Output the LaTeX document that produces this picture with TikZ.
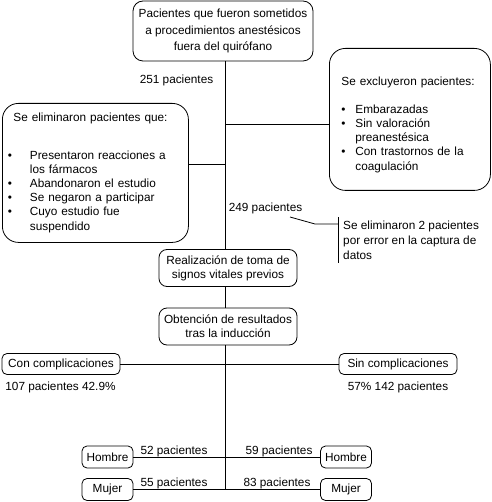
\documentclass[tikz,border=0pt]{standalone}
\usepackage{fontspec}
\setmainfont{Liberation Sans}
\usetikzlibrary{positioning}
\tikzset{
  flowbox/.style  = {draw, line width=0.8pt, rounded corners=5pt, align=center,
                     inner sep=2pt, font=\fontsize{11.8}{14.2}\selectfont},
  stepbox/.style  = {flowbox, rounded corners=8pt, minimum width=138pt, minimum height=37pt},
  listbox/.style  = {flowbox, rounded corners=16pt, align=left, anchor=north west},
  countlbl/.style = {font=\fontsize{11.8}{14.2}\selectfont, inner sep=0pt},
  link/.style     = {line width=0.8pt},
}
\newcommand{\itembul}[1][22pt]{\makebox[#1][l]{\textbullet}}

\begin{document}
\begin{tikzpicture}[x=1pt, y=-1pt]
    \useasboundingbox (0,0) rectangle (491,502);
    \coordinate (tr) at (225,0);
    % start
    \node[stepbox, rounded corners=10pt, minimum width=180pt, minimum height=60pt,
          font=\fontsize{11.8}{16.7}\selectfont] (pac) at (223,31)
          {Pacientes que fueron sometidos\\a procedimientos anestésicos\\fuera del quirófano};
    \node[countlbl] (n251) at (176.5,80) {251 pacientes};
    % exclusions
    \node[listbox, text width=137pt, inner xsep=12pt, minimum height=142pt] (excl) at (329,48)
          {\rule{0pt}{19pt}Se excluyeron pacientes:\\[14pt]
           \itembul[14pt]Embarazadas\\
           \itembul[14pt]Sin valoración\\
           \hspace*{14pt}preanestésica\\
           \itembul[14pt]Con trastornos de la\\
           \hspace*{14pt}coagulación};
    \node[listbox, text width=175pt, inner xsep=5.5pt, minimum height=139pt] (elim) at (2,103)
          {\hspace*{5.5pt}Se eliminaron pacientes que:\\[23pt]
           \itembul Presentaron reacciones a\\
           \hspace*{22pt}los fármacos\\
           \itembul Abandonaron el estudio\\
           \itembul Se negaron a participar\\
           \itembul Cuyo estudio fue\\
           \hspace*{22pt}suspendido};
    \coordinate (bx) at (225,124);
    \coordinate (by) at (225,164);
    \draw[link] (bx) -- (bx -| excl.west);
    \draw[link] (by -| elim.east) -- (by);
    % data errors
    \node[countlbl] (n249) at (265.5,208) {249 pacientes};
    \node[countlbl, anchor=west, align=left, inner xsep=5pt, inner ysep=3pt,
          font=\fontsize{11.8}{15}\selectfont] (err) at (338,240)
          {Se eliminaron 2 pacientes\\por error en la captura de\\datos};
    \draw[link] (err.north west) -- (err.south west);
    \coordinate (ls) at (290,217);
    \coordinate (lk) at (315,224);
    \draw[link] (ls) -- (lk) -- (lk -| err.west);
    % steps
    \node[stepbox] (real) at (228,268) {Realización de toma de\\signos vitales previos};
    \node[stepbox] (obt) at (228,326.5) {Obtención de resultados\\tras la inducción};
    \draw[link] (pac.south -| tr) -- (real.north -| tr);
    \draw[link] (real.south -| tr) -- (obt.north -| tr);
    % outcome
    \node[flowbox, minimum width=118pt, minimum height=21pt] (con) at (61,364) {Con complicaciones};
    \node[flowbox, minimum width=118pt, minimum height=21pt] (sin) at (398,364) {Sin complicaciones};
    \draw[link] (con) -- (sin);
    \node[countlbl] (ncon) at (60.5,387) {107 pacientes 42.9\%};
    \node[countlbl] (nsin) at (398,387) {57\% 142 pacientes};
    % sex
    \node[flowbox, minimum width=51pt, minimum height=22pt] (hl) at (107.5,457) {Hombre};
    \node[flowbox, minimum width=51pt, minimum height=22pt] (hr) at (346,457) {Hombre};
    \node[flowbox, minimum width=51pt, minimum height=22pt] (ml) at (107.5,489.5) {Mujer};
    \node[flowbox, minimum width=51pt, minimum height=22pt] (mr) at (346,489.5) {Mujer};
    \draw[link] (hl) -- (hr);
    \draw[link] (ml) -- (mr);
    \draw[link] (obt.south -| tr) -- (tr |- ml);
    \node[countlbl] (nhl) at (174,451) {52 pacientes};
    \node[countlbl] (nhr) at (279,451) {59 pacientes};
    \node[countlbl] (nml) at (174,483.5) {55 pacientes};
    \node[countlbl] (nmr) at (277,483.5) {83 pacientes};
\end{tikzpicture}
\end{document}
